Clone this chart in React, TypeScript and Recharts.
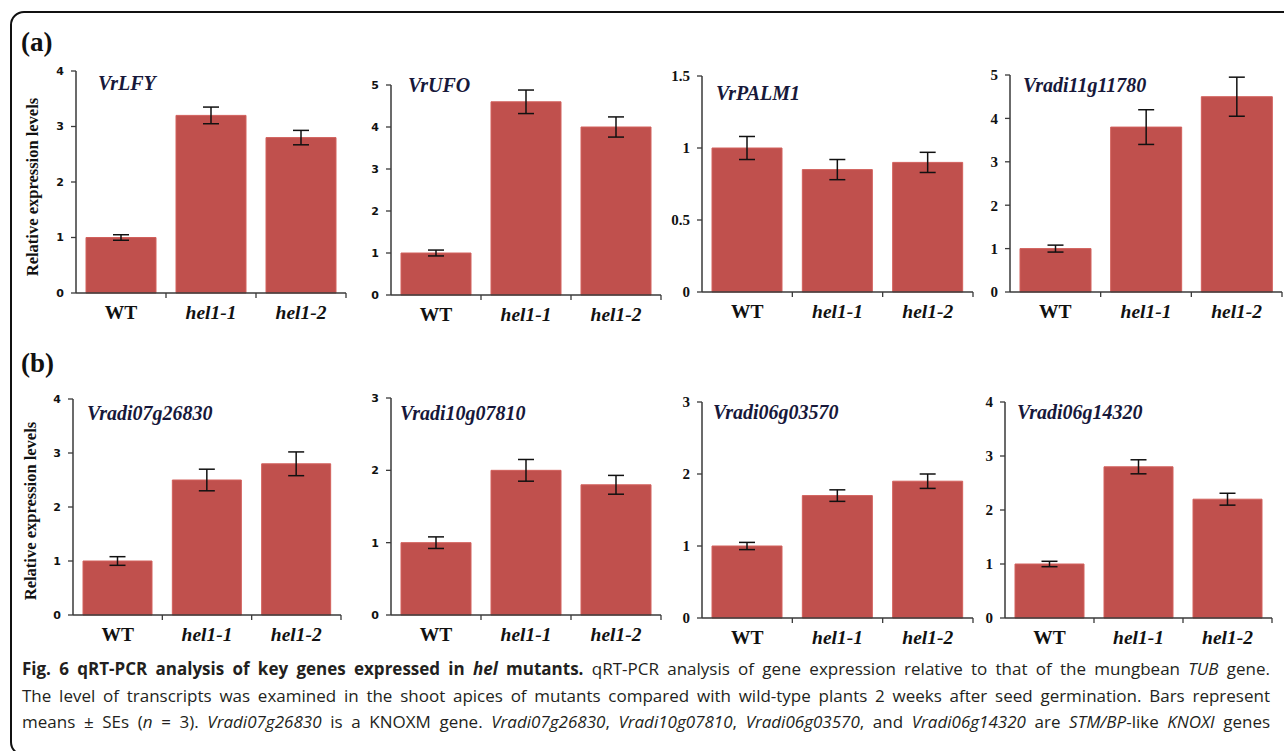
import React from 'react';
import { BarChart, Bar, XAxis, YAxis, ErrorBar } from 'recharts';

// genotypes on the x axis
const categories = ['WT', 'hel1-1', 'hel1-2'];

// relative expression (mean) and SE
const vrLFYMeans = [1.0, 3.2, 2.8];
const vrLFYErrors = [0.05, 0.15, 0.13];
const vrUFOMeans = [1.0, 4.6, 4.0];
const vrUFOErrors = [0.07, 0.28, 0.24];
const vrPALM1Means = [1.0, 0.85, 0.9];
const vrPALM1Errors = [0.08, 0.07, 0.07];
const g11780Means = [1.0, 3.8, 4.5];
const g11780Errors = [0.08, 0.4, 0.45];
const g26830Means = [1.0, 2.5, 2.8];
const g26830Errors = [0.08, 0.2, 0.22];
const g07810Means = [1.0, 2.0, 1.8];
const g07810Errors = [0.08, 0.15, 0.13];
const g03570Means = [1.0, 1.7, 1.9];
const g03570Errors = [0.05, 0.08, 0.1];
const g14320Means = [1.0, 2.8, 2.2];
const g14320Errors = [0.05, 0.13, 0.11];

// y tick labels
const ticksTo3 = [0, 1, 2, 3];
const ticksTo4 = [0, 1, 2, 3, 4];
const ticksTo5 = [0, 1, 2, 3, 4, 5];
const ticksTo15 = [0, 0.5, 1, 1.5];

const BAR = '#c0504d';
const AXIS = '#3a3a3a';
const SERIF = '"Liberation Serif", "Times New Roman", serif';
const SANS = '"DejaVu Sans", Verdana, sans-serif';

type Box = { ax: number; top: number; zero: number; plotW: number; tickFont: 'sans' | 'serif'; tx: number; ty: number };

const panels = [
  { gene: 'VrLFY', means: vrLFYMeans, errs: vrLFYErrors, ticks: ticksTo4, box: { ax: 76, top: 71, zero: 293, plotW: 270, tickFont: 'sans', tx: 98, ty: 83 } },
  { gene: 'VrUFO', means: vrUFOMeans, errs: vrUFOErrors, ticks: ticksTo5, box: { ax: 391, top: 85, zero: 295, plotW: 270, tickFont: 'sans', tx: 408, ty: 85 } },
  { gene: 'VrPALM1', means: vrPALM1Means, errs: vrPALM1Errors, ticks: ticksTo15, box: { ax: 702, top: 76, zero: 292, plotW: 271, tickFont: 'serif', tx: 716, ty: 93 } },
  { gene: 'Vradi11g11780', means: g11780Means, errs: g11780Errors, ticks: ticksTo5, box: { ax: 1010, top: 75, zero: 292, plotW: 272, tickFont: 'serif', tx: 1023, ty: 85 } },
  { gene: 'Vradi07g26830', means: g26830Means, errs: g26830Errors, ticks: ticksTo4, box: { ax: 73, top: 399, zero: 615, plotW: 268, tickFont: 'sans', tx: 87, ty: 413 } },
  { gene: 'Vradi10g07810', means: g07810Means, errs: g07810Errors, ticks: ticksTo3, box: { ax: 391, top: 398, zero: 615, plotW: 270, tickFont: 'sans', tx: 400, ty: 413 } },
  { gene: 'Vradi06g03570', means: g03570Means, errs: g03570Errors, ticks: ticksTo3, box: { ax: 702, top: 402, zero: 618, plotW: 271, tickFont: 'serif', tx: 713, ty: 412 } },
  { gene: 'Vradi06g14320', means: g14320Means, errs: g14320Errors, ticks: ticksTo4, box: { ax: 1005, top: 402, zero: 618, plotW: 267, tickFont: 'serif', tx: 1017, ty: 412 } },
];

const GenePanel = ({ gene, means, errs, ticks, box }: { gene: string; means: number[]; errs: number[]; ticks: number[]; box: Box }) => {
  const yW = 44;
  const mTop = 12;
  const xH = 40;
  const plotH = box.zero - box.top;
  const width = yW + box.plotW + 6;
  const height = mTop + plotH + xH;
  const bandW = box.plotW / categories.length;
  const data = categories.map((c, i) => ({ name: c, value: means[i], err: errs[i] }));

  const catTick = (props: any) => {
    const { x, y, payload } = props;
    const isWT = payload.value === 'WT';
    return (
      <g>
        <line x1={x + bandW / 2} x2={x + bandW / 2} y1={y} y2={y + 5} stroke={AXIS} strokeWidth={1.3} />
        <text
          x={x}
          y={y + 26}
          textAnchor="middle"
          fontFamily={SERIF}
          fontWeight="bold"
          fontStyle={isWT ? 'normal' : 'italic'}
          fontSize={19.5}
          fill="#111"
        >
          {payload.value}
        </text>
      </g>
    );
  };

  const tickStyle =
    box.tickFont === 'sans'
      ? { fontFamily: SANS, fontWeight: 'bold', fontSize: 11, fill: '#111' }
      : { fontFamily: SERIF, fontWeight: 'bold', fontSize: 15, fill: '#111' };

  return (
    <>
      <div style={{ position: 'absolute', left: box.ax - yW, top: box.top - mTop }}>
        <BarChart width={width} height={height} data={data} margin={{ top: mTop, right: 6, bottom: 0, left: 0 }} barCategoryGap={10}>
          <XAxis
            dataKey="name"
            height={xH}
            interval={0}
            tickSize={0}
            tickMargin={0}
            tickLine={false}
            axisLine={{ stroke: AXIS, strokeWidth: 1.5 }}
            tick={catTick}
          />
          <YAxis
            width={yW}
            type="number"
            domain={[0, ticks[ticks.length - 1]]}
            ticks={ticks}
            interval={0}
            tickSize={5}
            tickMargin={7}
            axisLine={{ stroke: AXIS, strokeWidth: 1.5 }}
            tickLine={{ stroke: AXIS, strokeWidth: 1.3 }}
            tick={tickStyle}
          />
          <Bar dataKey="value" fill={BAR} stroke="#d2605c" strokeWidth={1} isAnimationActive={false}>
            <ErrorBar dataKey="err" width={8} stroke="#111" strokeWidth={1.5} isAnimationActive={false} />
          </Bar>
        </BarChart>
      </div>
      <div
        style={{
          position: 'absolute',
          left: box.tx,
          top: box.ty - 12,
          fontFamily: SERIF,
          fontWeight: 'bold',
          fontStyle: 'italic',
          fontSize: 20,
          lineHeight: '24px',
          color: '#17183a',
          whiteSpace: 'nowrap',
        }}
      >
        {gene}
      </div>
    </>
  );
};

const YLabel = ({ cx, cy }: { cx: number; cy: number }) => (
  <div
    style={{
      position: 'absolute',
      left: cx - 120,
      top: cy - 10,
      width: 240,
      height: 20,
      lineHeight: '20px',
      textAlign: 'center',
      transform: 'rotate(-90deg)',
      fontFamily: SERIF,
      fontWeight: 'bold',
      fontSize: 16.5,
      color: '#111',
      whiteSpace: 'nowrap',
    }}
  >
    Relative expression levels
  </div>
);

const capLine: React.CSSProperties = {
  whiteSpace: 'nowrap',
  textAlign: 'justify',
  textAlignLast: 'justify',
  height: 26.5,
  lineHeight: '26.5px',
};

export default function App() {
  return (
    <div style={{ position: 'absolute', left: 0, top: 0, width: 1284, height: 751, overflow: 'hidden', background: '#fff' }}>
      <div
        style={{
          position: 'absolute',
          left: 10,
          top: 11,
          width: 1300,
          height: 745,
          border: '2.5px solid #111',
          borderRadius: 14,
          boxSizing: 'border-box',
        }}
      />
      <div style={{ position: 'absolute', left: 21, top: 27, fontFamily: SERIF, fontWeight: 'bold', fontSize: 27, color: '#111' }}>(a)</div>
      <div style={{ position: 'absolute', left: 21, top: 348, fontFamily: SERIF, fontWeight: 'bold', fontSize: 27, color: '#111' }}>(b)</div>
      <YLabel cx={33} cy={187} />
      <YLabel cx={31} cy={511} />
      {panels.map((p) => (
        <GenePanel key={p.gene} gene={p.gene} means={p.means} errs={p.errs} ticks={p.ticks} box={p.box as Box} />
      ))}
      <div
        style={{
          position: 'absolute',
          left: 22,
          top: 656,
          width: 1248,
          fontFamily: '"Open Sans", "Noto Sans", sans-serif',
          fontSize: 17,
          color: '#231f20',
        }}
      >
        <div style={capLine}>
          <b>
            Fig. 6 qRT-PCR analysis of key genes expressed in <i>hel</i> mutants.
          </b>{' '}
          qRT-PCR analysis of gene expression relative to that of the mungbean <i>TUB</i> gene.
        </div>
        <div style={capLine}>
          The level of transcripts was examined in the shoot apices of mutants compared with wild-type plants 2 weeks after seed germination. Bars represent
        </div>
        <div style={capLine}>
          means ± SEs (<i>n</i> = 3). <i>Vradi07g26830</i> is a KNOXM gene. <i>Vradi07g26830</i>, <i>Vradi10g07810</i>, <i>Vradi06g03570</i>, and{' '}
          <i>Vradi06g14320</i> are <i>STM/BP</i>-like <i>KNOXI</i> genes
        </div>
      </div>
    </div>
  );
}
